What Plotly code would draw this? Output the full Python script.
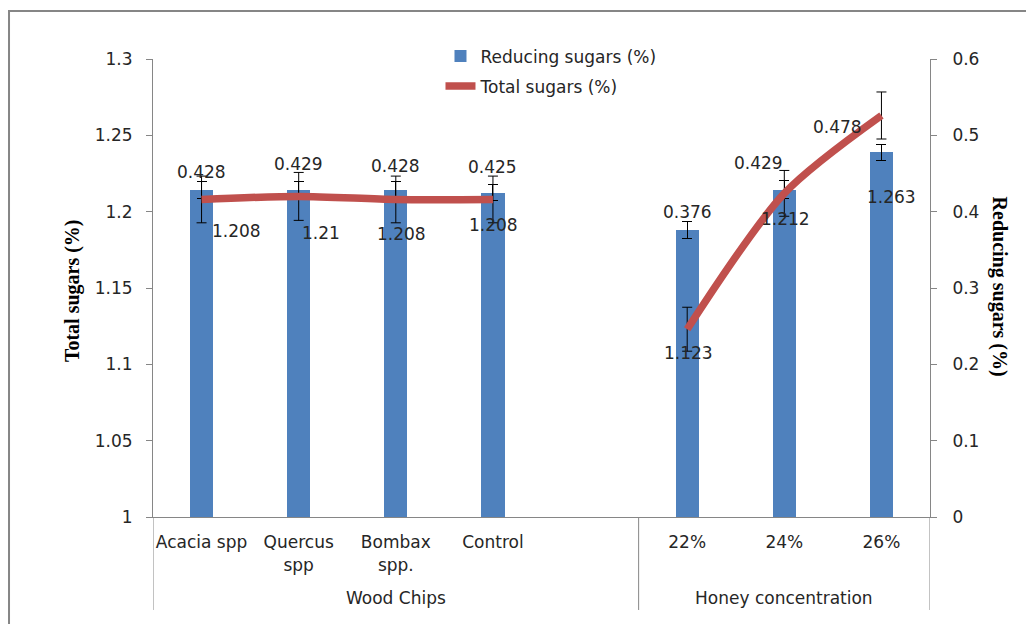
import plotly.graph_objects as go

categories = ["Acacia spp", "Quercus<br>spp", "Bombax<br>spp.", "Control", "", "22%", "24%", "26%"]
groups = ["Wood Chips", "Honey concentration"]
reducing = [0.428, 0.429, 0.428, 0.425, None, 0.376, 0.429, 0.478]
reducing_err = [0.011, 0.011, 0.011, 0.011, None, 0.011, 0.012, 0.0105]
total = [1.208, 1.21, 1.208, 1.208, None, 1.123, 1.212, 1.263]
total_err = [0.0153, 0.0157, 0.0153, 0.0153, None, 0.0144, 0.015, 0.0154]
reducing_labels = ["0.428", "0.429", "0.428", "0.425", "", "0.376", "0.429", "0.478"]
total_labels = ["1.208", "1.21", "1.208", "1.208", "", "1.123", "1.212", "1.263"]

xpos = list(range(len(categories)))
FONT = "DejaVu Sans"
TXT = "#262626"
AX = "#868686"

fig = go.Figure()
fig.add_trace(go.Bar(
    x=xpos, y=reducing, name="Reducing sugars (%)", width=0.24,
    marker=dict(color="#4F81BD", line=dict(width=0)),
    error_y=dict(type="data", array=reducing_err, color="black", thickness=1, width=5),
    yaxis="y", legendgroup="a",
))
fig.add_trace(go.Scatter(
    x=xpos, y=total, name="Total sugars (%)", mode="lines",
    line=dict(color="#C0504D", width=7.5, shape="spline", smoothing=0.8),
    error_y=dict(type="data", array=total_err, color="black", thickness=1, width=5),
    connectgaps=False, yaxis="y2", legendgroup="b",
))

annotations = []
# bar data labels (offsets in px)
bar_off = [(0, 18), (0, 26), (0, 24), (0, 26), None, (0, 18), (-26, 27), (-44, 25)]
for i, (v, lab) in enumerate(zip(reducing, reducing_labels)):
    if v is None:
        continue
    dx, dy = bar_off[i]
    annotations.append(dict(x=i, y=v, xref="x", yref="y", text=lab, showarrow=False,
                            xshift=dx, yshift=dy, font=dict(family=FONT, size=17, color=TXT)))
line_off = [(35, -32), (22, -37), (6, -35), (1, -26), None, (1, -24), (1, -26), (10, -82)]
for i, (v, lab) in enumerate(zip(total, total_labels)):
    if v is None:
        continue
    dx, dy = line_off[i]
    annotations.append(dict(x=i, y=v, xref="x", yref="y2", text=lab, showarrow=False,
                            xshift=dx, yshift=dy, font=dict(family=FONT, size=17, color=TXT)))
# group labels
annotations.append(dict(x=2, y=-0.1775, xref="x", yref="paper", text=groups[0], showarrow=False,
                        yanchor="middle", font=dict(family=FONT, size=17, color=TXT)))
annotations.append(dict(x=6, y=-0.1775, xref="x", yref="paper", text=groups[1], showarrow=False,
                        yanchor="middle", font=dict(family=FONT, size=17, color=TXT)))
# axis titles
annotations.append(dict(x=-0.1045, y=0.495, xref="paper", yref="paper", text="<b>Total sugars (%)</b>",
                        textangle=-90, showarrow=False, xanchor="center", yanchor="middle",
                        font=dict(family="Liberation Serif", size=20, color="black")))
annotations.append(dict(x=1.0894, y=0.502, xref="paper", yref="paper", text="<b>Reducing sugars (%)</b>",
                        textangle=90, showarrow=False, xanchor="center", yanchor="middle",
                        font=dict(family="Liberation Serif", size=20, color="black")))

shapes = []
for xb in [-0.5, 4.5, 7.5]:
    shapes.append(dict(type="line", xref="x", yref="paper", x0=xb, x1=xb, y0=-0.203, y1=0,
                       line=dict(color=AX, width=1)))
# outer chart frame
shapes.append(dict(type="rect", xref="paper", yref="paper", x0=-0.1853, x1=1.3, y0=-0.4, y1=1.105,
                   line=dict(color=AX, width=2), fillcolor="rgba(0,0,0,0)", layer="below"))

fig.update_layout(
    width=1026, height=616,
    margin=dict(l=145, r=104, t=51, b=107),
    paper_bgcolor="white", plot_bgcolor="white",
    showlegend=True,
    legend=dict(x=0.37, y=1.045, xanchor="left", yanchor="top", bgcolor="rgba(0,0,0,0)",
                font=dict(family=FONT, size=17, color=TXT), traceorder="grouped", tracegroupgap=5),
    xaxis=dict(range=[-0.5, 7.5], tickvals=xpos, ticktext=categories, ticks="", showgrid=False,
               zeroline=False, showline=True, linecolor=AX, linewidth=1, ticklabelstandoff=10,
               tickfont=dict(family=FONT, size=17, color=TXT)),
    yaxis=dict(range=[0, 0.6], dtick=0.1, tick0=0, side="right", showgrid=False, zeroline=False,
               showline=True, linecolor=AX, linewidth=1, ticks="outside", ticklen=6, tickcolor=AX,
               ticklabelstandoff=12, tickfont=dict(family=FONT, size=17, color=TXT)),
    yaxis2=dict(range=[1, 1.3], dtick=0.05, tick0=1, side="left", overlaying="y", showgrid=False,
                zeroline=False, showline=True, linecolor=AX, linewidth=1, ticks="outside", ticklen=6,
                tickcolor=AX, ticklabelstandoff=10, tickfont=dict(family=FONT, size=17, color=TXT)),
    annotations=annotations, shapes=shapes,
    bargap=0,
)
fig.write_html("out.html")
